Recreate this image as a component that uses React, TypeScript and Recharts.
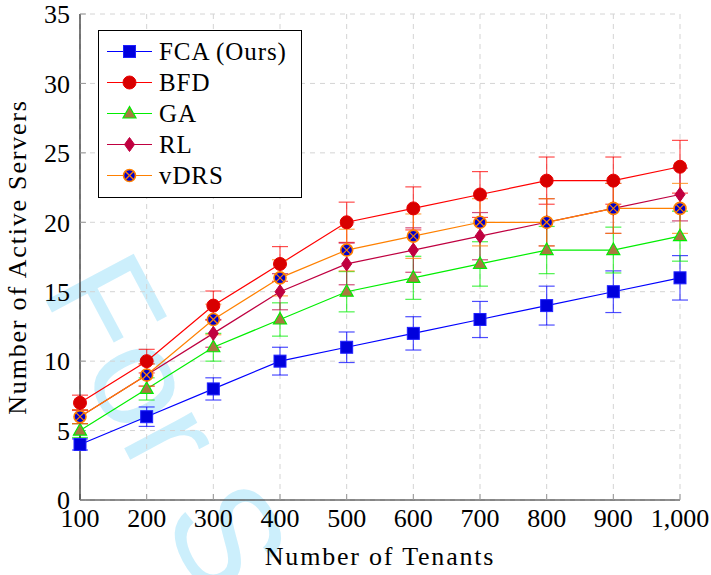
import React from 'react'
import { LineChart, Line, XAxis, YAxis, CartesianGrid, ErrorBar, Legend } from 'recharts'

const tenants = [100, 200, 300, 400, 500, 600, 700, 800, 900, 1000]
const fcaServers = [4, 6, 8, 10, 11, 12, 13, 14, 15, 16]
const fcaError = [0.4, 0.7, 0.8, 1.0, 1.1, 1.2, 1.3, 1.4, 1.5, 1.6]
const bfdServers = [7, 10, 14, 17, 20, 21, 22, 23, 23, 24]
const bfdError = [0.55, 0.85, 1.05, 1.25, 1.45, 1.55, 1.65, 1.7, 1.7, 1.9]
const gaServers = [5, 8, 11, 13, 15, 16, 17, 18, 18, 19]
const gaError = [0.5, 0.8, 1.0, 1.2, 1.45, 1.55, 1.6, 1.7, 1.65, 1.8]
const rlServers = [6, 9, 12, 15, 17, 18, 19, 20, 21, 22]
const rlError = [0.5, 0.8, 1.0, 1.3, 1.5, 1.6, 1.7, 1.7, 1.8, 1.9]
const vdrsServers = [6, 9, 13, 16, 18, 19, 20, 20, 21, 21]
const vdrsError = [0.5, 0.8, 1.1, 1.3, 1.5, 1.6, 1.7, 1.7, 1.8, 1.8]
const yTicks = [0, 5, 10, 15, 20, 25, 30, 35]

const FONT = 'Liberation Serif, DejaVu Serif'

const data = tenants.map((t, i) => ({
  tenants: t,
  fca: fcaServers[i],
  fcaErr: fcaError[i],
  bfd: bfdServers[i],
  bfdErr: bfdError[i],
  ga: gaServers[i],
  gaErr: gaError[i],
  rl: rlServers[i],
  rlErr: rlError[i],
  vdrs: vdrsServers[i],
  vdrsErr: vdrsError[i],
}))

type Shape = 'square' | 'circle' | 'triangle' | 'diamond' | 'otimes'

const series: { key: string; name: string; color: string; shape: Shape }[] = [
  { key: 'fca', name: 'FCA (Ours)', color: '#0000ff', shape: 'square' },
  { key: 'bfd', name: 'BFD', color: '#ff0000', shape: 'circle' },
  { key: 'ga', name: 'GA', color: '#00ee00', shape: 'triangle' },
  { key: 'rl', name: 'RL', color: '#bf0040', shape: 'diamond' },
  { key: 'vdrs', name: 'vDRS', color: '#ff8000', shape: 'otimes' },
]

function marker(shape: Shape, cx: number, cy: number, key?: string) {
  if (shape === 'square')
    return <rect key={key} x={cx - 6} y={cy - 6} width={12} height={12} fill="#0000dd" stroke="#2020ff" strokeWidth={1} />
  if (shape === 'circle')
    return <circle key={key} cx={cx} cy={cy} r={6.5} fill="#d80000" stroke="#e80000" strokeWidth={1} />
  if (shape === 'triangle')
    return (
      <polygon
        key={key}
        points={`${cx},${cy - 7} ${cx - 6.5},${cy + 4.5} ${cx + 6.5},${cy + 4.5}`}
        fill="#a87840"
        stroke="#00ee00"
        strokeWidth={1.2}
      />
    )
  if (shape === 'diamond')
    return (
      <polygon
        key={key}
        points={`${cx},${cy - 7} ${cx + 5},${cy} ${cx},${cy + 7} ${cx - 5},${cy}`}
        fill="#c0003f"
        stroke="#bf0040"
        strokeWidth={1}
      />
    )
  return (
    <g key={key}>
      <circle cx={cx} cy={cy} r={6} fill="#0000cc" stroke="#ff8000" strokeWidth={1.6} />
      <line x1={cx - 4} y1={cy - 4} x2={cx + 4} y2={cy + 4} stroke="#ff8000" strokeWidth={1.2} />
      <line x1={cx - 4} y1={cy + 4} x2={cx + 4} y2={cy - 4} stroke="#ff8000" strokeWidth={1.2} />
    </g>
  )
}

const LegendBox = () => (
  <div
    style={{
      border: '1px solid #000',
      background: '#fff',
      width: 204,
      height: 168,
      boxSizing: 'border-box',
      paddingTop: 4.5,
      fontFamily: FONT,
      fontSize: 25,
      letterSpacing: 0.9,
      color: '#000',
    }}
  >
    {series.map((s) => (
      <div key={s.key} style={{ display: 'flex', alignItems: 'center', height: 31 }}>
        <svg width={60} height={31} style={{ flex: 'none' }}>
          <line x1={8} x2={53} y1={15.5} y2={15.5} stroke={s.color} strokeWidth={1.2} />
          {marker(s.shape, 30.5, 15.5)}
        </svg>
        <span style={{ lineHeight: '31px', whiteSpace: 'nowrap' }}>{s.name}</span>
      </div>
    ))}
  </div>
)

const tickStyle = { fontSize: 26, fill: '#000', fontFamily: FONT }
const titleStyle = { ...tickStyle, letterSpacing: 1.8 }

export default function App() {
  return (
    <div style={{ position: 'absolute', left: 0, top: 0, width: 711, height: 575, background: '#fff', fontFamily: FONT }}>
      <svg width={711} height={575} style={{ position: 'absolute', left: 0, top: 0 }}>
        <text
          x={40}
          y={290}
          transform="rotate(62 40 290)"
          fontFamily="Liberation Sans, Arial, sans-serif"
          fontSize={145}
          fill="#00aeef"
          fillOpacity={0.2}
        >
          For Sale
        </text>
      </svg>
      <LineChart width={711} height={575} data={data} margin={{ top: 14, right: 31, bottom: 0, left: 0 }}>
        <CartesianGrid stroke="#d4d4d4" strokeDasharray="5 5" />
        <XAxis
          dataKey="tenants"
          type="number"
          domain={[100, 1000]}
          ticks={tenants}
          interval={0}
          height={75}
          tickSize={-6}
          tickMargin={14.5}
          tick={tickStyle}
          tickLine={{ stroke: '#999' }}
          axisLine={{ stroke: '#222', strokeWidth: 1.2 }}
          tickFormatter={(v: number) => v.toLocaleString('en-US')}
          label={{ value: 'Number of Tenants', position: 'insideBottom', offset: 10, style: titleStyle }}
        />
        <XAxis
          xAxisId="top"
          orientation="top"
          type="number"
          domain={[100, 1000]}
          ticks={tenants}
          interval={0}
          height={0}
          tickSize={-6}
          tickLine={{ stroke: '#999' }}
          axisLine={{ stroke: '#222', strokeWidth: 1.2 }}
          tickFormatter={() => ''}
        />
        <YAxis
          type="number"
          domain={[0, 35]}
          ticks={yTicks}
          interval={0}
          width={80}
          tickSize={-6}
          tickMargin={16}
          tick={tickStyle}
          tickLine={{ stroke: '#999' }}
          axisLine={{ stroke: '#222', strokeWidth: 1.2 }}
          label={{
            value: 'Number of Active Servers',
            angle: -90,
            position: 'insideLeft',
            offset: 17,
            style: { ...titleStyle, textAnchor: 'middle' },
          }}
        />
        <YAxis
          yAxisId="right"
          orientation="right"
          type="number"
          domain={[0, 35]}
          ticks={yTicks}
          interval={0}
          width={0}
          tickSize={-6}
          tickLine={{ stroke: '#999' }}
          axisLine={{ stroke: '#222', strokeWidth: 1.2 }}
          tickFormatter={() => ''}
        />
        <Legend
          layout="horizontal"
          verticalAlign="middle"
          align="center"
          content={() => <LegendBox />}
          wrapperStyle={{ left: 98, top: 30, width: 204, height: 168 }}
        />
        {series.map((s) => (
          <Line
            key={s.key}
            type="linear"
            dataKey={s.key}
            name={s.name}
            stroke={s.color}
            strokeWidth={1.2}
            isAnimationActive={false}
            dot={(p: any) => marker(s.shape, p.cx, p.cy, `${s.key}-${p.index}`)}
            activeDot={false}
          >
            <ErrorBar dataKey={`${s.key}Err`} width={8} stroke={s.color} strokeOpacity={0.7} strokeWidth={1.2} direction="y" />
          </Line>
        ))}
      </LineChart>
    </div>
  )
}
